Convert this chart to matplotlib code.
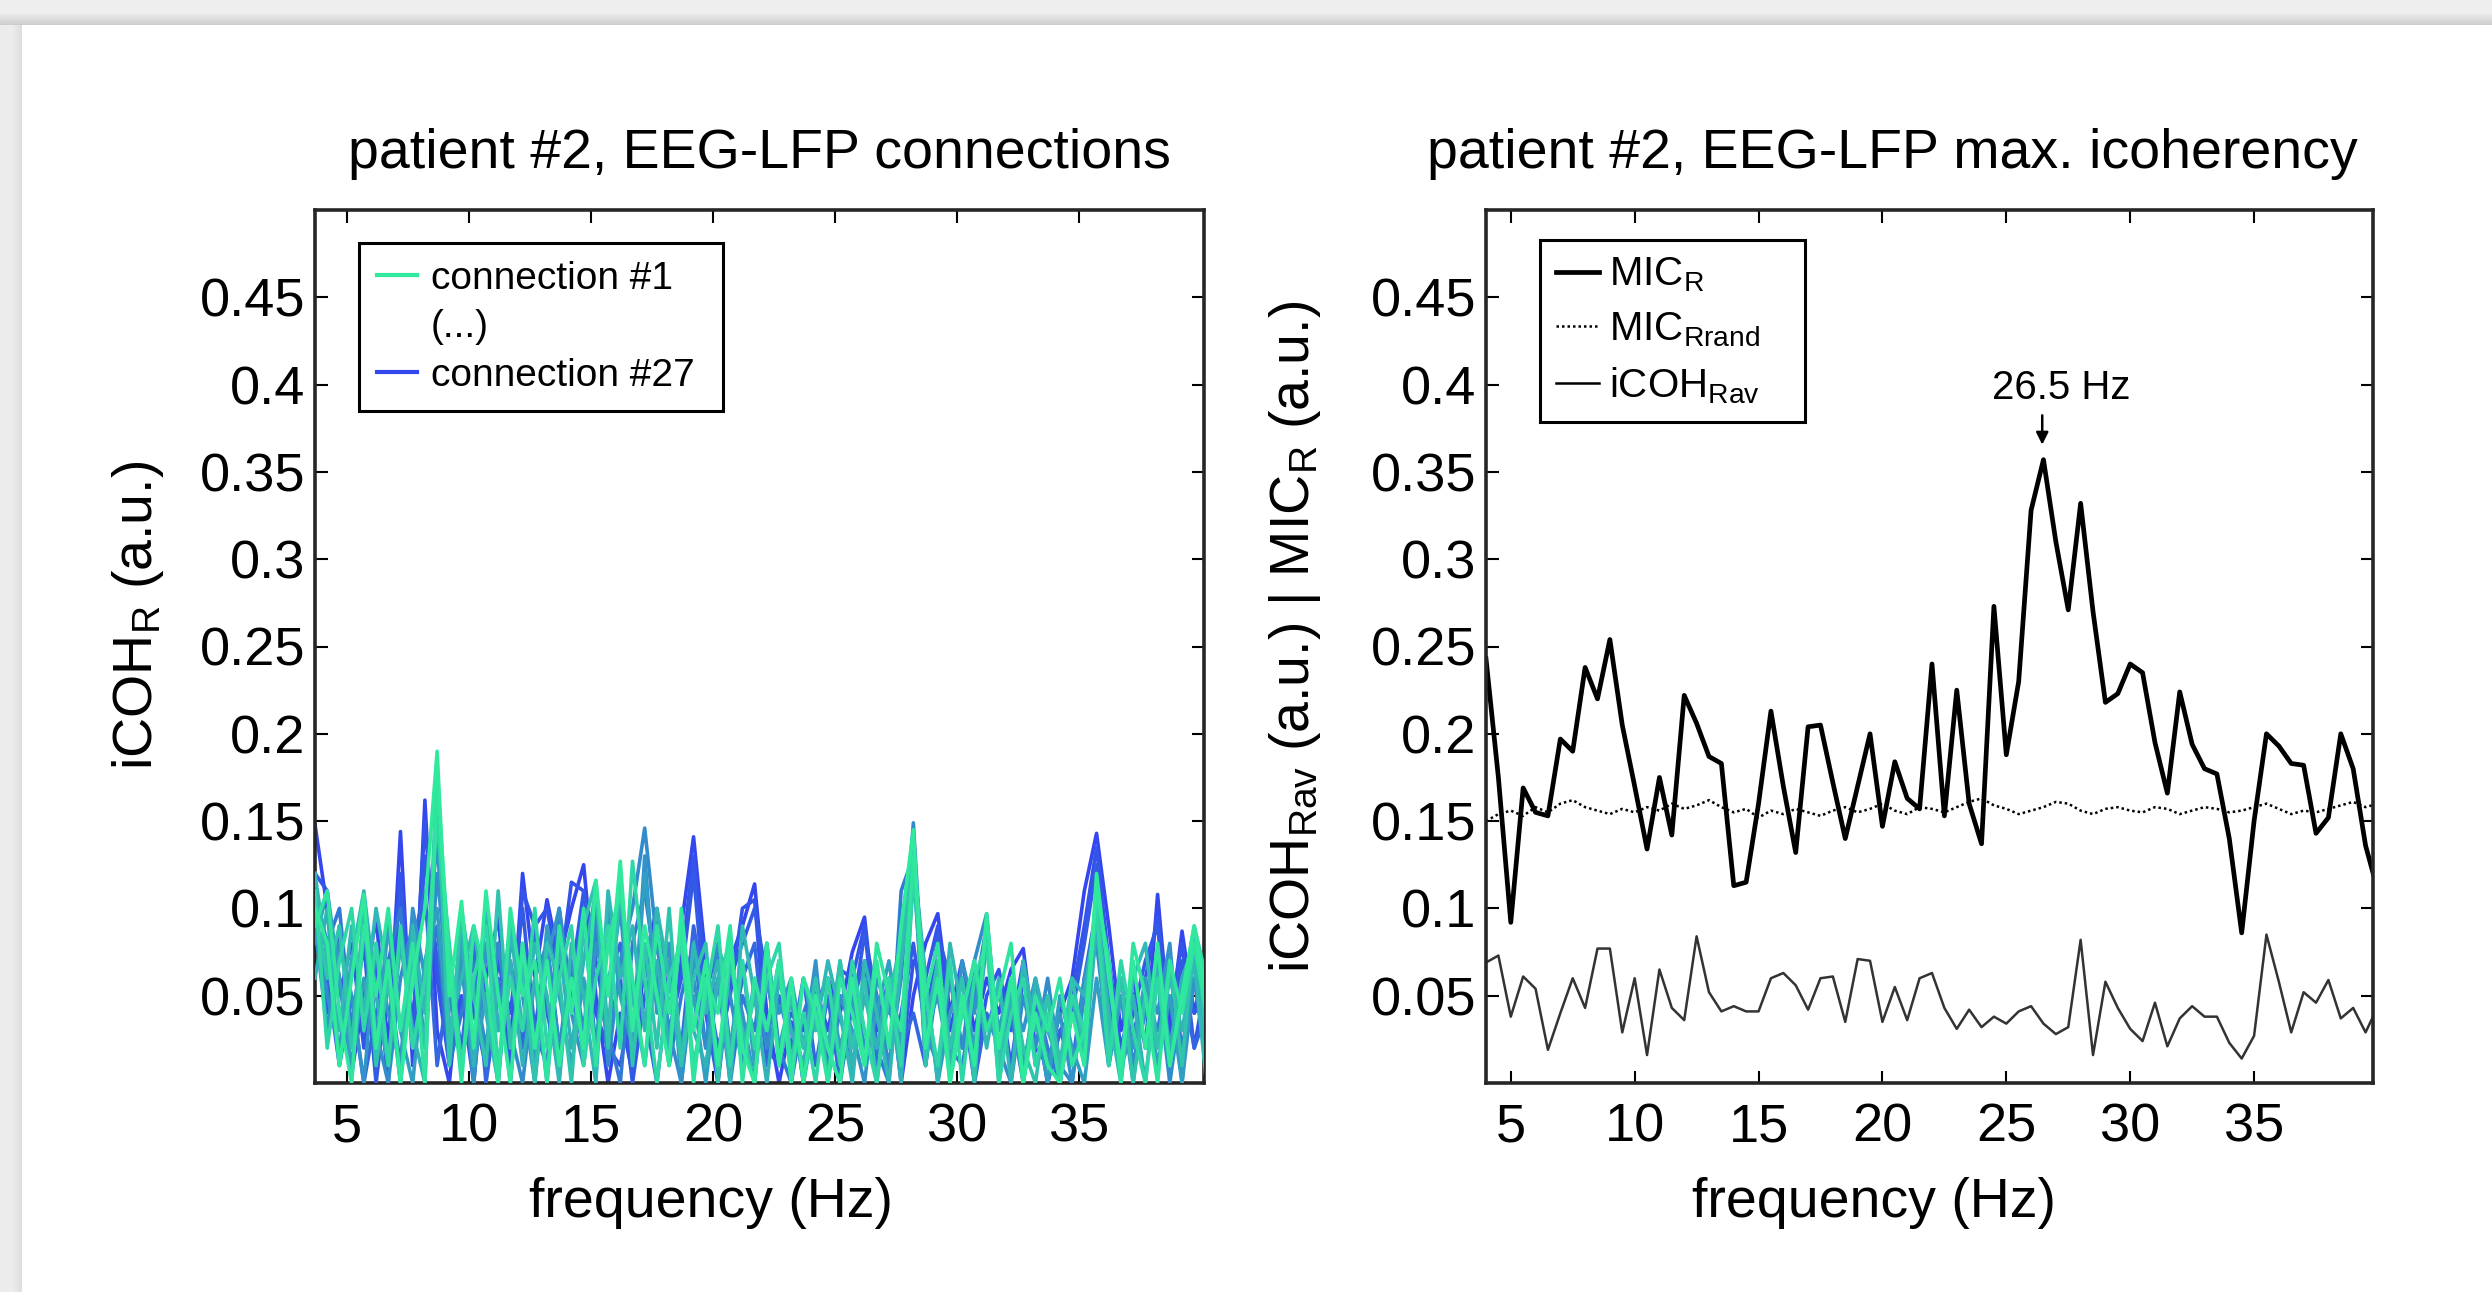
"""
Patient #2 EEG-LFP imaginary coherency: all connections and maximal icoherency
"""

import numpy as np
import matplotlib
matplotlib.use("Agg")
import matplotlib.pyplot as plt
from matplotlib.lines import Line2D
from matplotlib.patches import Rectangle
from matplotlib.colors import to_rgb

plt.rcParams["font.family"] = ["Liberation Sans", "DejaVu Sans"]
plt.rcParams["mathtext.fontset"] = "custom"
plt.rcParams["mathtext.rm"] = "Liberation Sans"
plt.rcParams["mathtext.default"] = "regular"

# ---- left panel: iCOH_R of single EEG-LFP connections (0.5 Hz bins from 3.7 Hz)
f0_conn = 3.7
conn_27 = [0.148, 0.100, 0.060, 0.005, 0.050, 0.095, 0.020, 0.144, 0.010, 0.162,
           0.030, 0.000, 0.070, 0.010, 0.060, 0.095, 0.020, 0.120, 0.060, 0.105,
           0.070, 0.100, 0.125, 0.050, 0.000, 0.040, 0.005, 0.070, 0.100, 0.040,
           0.090, 0.141, 0.070, 0.010, 0.070, 0.090, 0.114, 0.040, 0.000, 0.035,
           0.010, 0.045, 0.060, 0.040, 0.075, 0.095, 0.030, 0.060, 0.000, 0.050,
           0.080, 0.097, 0.040, 0.070, 0.030, 0.060, 0.040, 0.065, 0.077, 0.020,
           0.010, 0.040, 0.060, 0.110, 0.143, 0.090, 0.030, 0.060, 0.020, 0.108,
           0.030, 0.087, 0.040, 0.070]
conn_25 = [0.120, 0.110, 0.050, 0.080, 0.020, 0.070, 0.000, 0.120, 0.030, 0.150,
           0.060, 0.010, 0.050, 0.000, 0.075, 0.080, 0.010, 0.110, 0.090, 0.100,
           0.060, 0.115, 0.110, 0.040, 0.020, 0.010, 0.050, 0.060, 0.090, 0.020,
           0.070, 0.130, 0.060, 0.020, 0.050, 0.100, 0.105, 0.020, 0.010, 0.050,
           0.000, 0.055, 0.030, 0.065, 0.060, 0.090, 0.020, 0.045, 0.010, 0.070,
           0.060, 0.090, 0.030, 0.060, 0.010, 0.050, 0.065, 0.030, 0.070, 0.010,
           0.035, 0.010, 0.050, 0.090, 0.135, 0.070, 0.020, 0.050, 0.060, 0.095,
           0.040, 0.080, 0.020, 0.060]
conn_24 = [0.100, 0.040, 0.090, 0.030, 0.080, 0.000, 0.060, 0.110, 0.020, 0.130,
           0.070, 0.020, 0.090, 0.040, 0.010, 0.070, 0.040, 0.100, 0.030, 0.080,
           0.020, 0.060, 0.110, 0.070, 0.030, 0.060, 0.000, 0.050, 0.080, 0.030,
           0.060, 0.120, 0.040, 0.000, 0.060, 0.080, 0.100, 0.060, 0.020, 0.040,
           0.030, 0.060, 0.010, 0.050, 0.040, 0.085, 0.050, 0.020, 0.040, 0.080,
           0.030, 0.085, 0.060, 0.020, 0.050, 0.030, 0.055, 0.010, 0.060, 0.040,
           0.000, 0.030, 0.040, 0.080, 0.125, 0.060, 0.010, 0.040, 0.070, 0.090,
           0.020, 0.070, 0.040, 0.050]
conn_22 = [0.090, 0.060, 0.010, 0.050, 0.000, 0.040, 0.060, 0.010, 0.080, 0.110,
           0.010, 0.060, 0.020, 0.080, 0.000, 0.050, 0.070, 0.020, 0.090, 0.040,
           0.010, 0.060, 0.095, 0.020, 0.060, 0.080, 0.020, 0.040, 0.000, 0.060,
           0.020, 0.090, 0.050, 0.080, 0.020, 0.060, 0.080, 0.010, 0.050, 0.020,
           0.060, 0.010, 0.050, 0.000, 0.045, 0.070, 0.010, 0.050, 0.020, 0.040,
           0.010, 0.070, 0.020, 0.050, 0.000, 0.040, 0.020, 0.055, 0.010, 0.045,
           0.000, 0.030, 0.010, 0.060, 0.100, 0.020, 0.060, 0.010, 0.050, 0.070,
           0.010, 0.060, 0.020, 0.040]
conn_19 = [0.110, 0.080, 0.100, 0.030, 0.090, 0.010, 0.070, 0.100, 0.020, 0.060,
           0.090, 0.010, 0.040, 0.070, 0.010, 0.060, 0.000, 0.080, 0.030, 0.010,
           0.100, 0.050, 0.020, 0.090, 0.030, 0.000, 0.080, 0.110, 0.060, 0.010,
           0.050, 0.080, 0.020, 0.060, 0.000, 0.050, 0.030, 0.080, 0.020, 0.000,
           0.040, 0.060, 0.010, 0.040, 0.005, 0.060, 0.020, 0.000, 0.110, 0.130,
           0.010, 0.060, 0.020, 0.010, 0.050, 0.090, 0.010, 0.040, 0.000, 0.050,
           0.020, 0.000, 0.040, 0.020, 0.100, 0.050, 0.010, 0.030, 0.050, 0.030,
           0.070, 0.020, 0.060, 0.010]
conn_16 = [0.100, 0.050, 0.020, 0.070, 0.100, 0.030, 0.000, 0.060, 0.090, 0.020,
           0.120, 0.050, 0.010, 0.060, 0.020, 0.080, 0.030, 0.000, 0.060, 0.080,
           0.020, 0.070, 0.030, 0.100, 0.010, 0.070, 0.100, 0.146, 0.080, 0.030,
           0.000, 0.060, 0.020, 0.080, 0.050, 0.010, 0.060, 0.020, 0.070, 0.030,
           0.010, 0.050, 0.020, 0.000, 0.060, 0.020, 0.050, 0.010, 0.060, 0.149,
           0.030, 0.010, 0.060, 0.020, 0.070, 0.097, 0.020, 0.000, 0.050, 0.020,
           0.060, 0.010, 0.000, 0.050, 0.080, 0.020, 0.060, 0.010, 0.040, 0.060,
           0.000, 0.050, 0.070, 0.030]
conn_15 = [0.090, 0.030, 0.080, 0.050, 0.000, 0.080, 0.040, 0.010, 0.100, 0.060,
           0.140, 0.020, 0.070, 0.000, 0.080, 0.030, 0.090, 0.050, 0.000, 0.070,
           0.100, 0.040, 0.010, 0.080, 0.050, 0.100, 0.020, 0.130, 0.040, 0.080,
           0.000, 0.070, 0.050, 0.010, 0.070, 0.040, 0.000, 0.070, 0.040, 0.060,
           0.020, 0.070, 0.000, 0.050, 0.030, 0.000, 0.060, 0.040, 0.080, 0.140,
           0.030, 0.050, 0.010, 0.070, 0.040, 0.090, 0.000, 0.050, 0.030, 0.060,
           0.010, 0.040, 0.000, 0.060, 0.090, 0.010, 0.050, 0.000, 0.060, 0.040,
           0.080, 0.000, 0.060, 0.030]
conn_13 = [0.080, 0.110, 0.060, 0.010, 0.060, 0.020, 0.090, 0.030, 0.000, 0.070,
           0.100, 0.020, 0.080, 0.010, 0.050, 0.000, 0.080, 0.060, 0.010, 0.090,
           0.050, 0.010, 0.060, 0.020, 0.100, 0.050, 0.020, 0.120, 0.050, 0.070,
           0.020, 0.050, 0.000, 0.060, 0.020, 0.070, 0.010, 0.060, 0.020, 0.050,
           0.000, 0.040, 0.060, 0.020, 0.050, 0.010, 0.040, 0.070, 0.020, 0.130,
           0.060, 0.000, 0.040, 0.060, 0.020, 0.080, 0.030, 0.060, 0.010, 0.040,
           0.000, 0.050, 0.020, 0.000, 0.060, 0.010, 0.050, 0.020, 0.060, 0.010,
           0.050, 0.000, 0.080, 0.050]
conn_10 = [0.060, 0.100, 0.010, 0.070, 0.110, 0.050, 0.010, 0.080, 0.030, 0.000,
           0.170, 0.060, 0.090, 0.010, 0.100, 0.030, 0.070, 0.010, 0.060, 0.000,
           0.080, 0.020, 0.070, 0.110, 0.030, 0.110, 0.050, 0.010, 0.070, 0.020,
           0.090, 0.030, 0.010, 0.060, 0.080, 0.020, 0.050, 0.000, 0.060, 0.030,
           0.010, 0.060, 0.020, 0.070, 0.010, 0.050, 0.020, 0.060, 0.000, 0.120,
           0.030, 0.070, 0.010, 0.050, 0.010, 0.090, 0.020, 0.050, 0.000, 0.060,
           0.030, 0.010, 0.050, 0.010, 0.090, 0.030, 0.010, 0.050, 0.000, 0.070,
           0.020, 0.060, 0.080, 0.020]
conn_09 = [0.120, 0.070, 0.030, 0.090, 0.040, 0.100, 0.060, 0.000, 0.090, 0.040,
           0.160, 0.030, 0.060, 0.090, 0.040, 0.000, 0.090, 0.030, 0.080, 0.050,
           0.000, 0.080, 0.050, 0.000, 0.110, 0.060, 0.090, 0.030, 0.100, 0.060,
           0.010, 0.080, 0.040, 0.070, 0.000, 0.090, 0.050, 0.030, 0.070, 0.010,
           0.060, 0.030, 0.070, 0.040, 0.000, 0.070, 0.040, 0.000, 0.070, 0.120,
           0.060, 0.000, 0.080, 0.040, 0.070, 0.020, 0.060, 0.000, 0.070, 0.030,
           0.050, 0.000, 0.060, 0.050, 0.100, 0.040, 0.000, 0.060, 0.080, 0.020,
           0.060, 0.030, 0.070, 0.000]
conn_07 = [0.100, 0.060, 0.090, 0.020, 0.100, 0.010, 0.060, 0.000, 0.070, 0.020,
           0.180, 0.010, 0.100, 0.050, 0.010, 0.110, 0.020, 0.070, 0.000, 0.080,
           0.060, 0.000, 0.090, 0.116, 0.020, 0.120, 0.010, 0.080, 0.020, 0.100,
           0.010, 0.060, 0.080, 0.000, 0.070, 0.030, 0.000, 0.080, 0.010, 0.050,
           0.020, 0.060, 0.000, 0.070, 0.020, 0.060, 0.000, 0.050, 0.080, 0.140,
           0.010, 0.070, 0.020, 0.060, 0.000, 0.095, 0.010, 0.060, 0.020, 0.000,
           0.050, 0.010, 0.060, 0.020, 0.110, 0.020, 0.060, 0.000, 0.050, 0.020,
           0.070, 0.010, 0.085, 0.030]
conn_04 = [0.110, 0.020, 0.070, 0.100, 0.030, 0.080, 0.010, 0.090, 0.020, 0.060,
           0.150, 0.080, 0.010, 0.060, 0.090, 0.010, 0.060, 0.030, 0.100, 0.020,
           0.060, 0.090, 0.010, 0.060, 0.090, 0.020, 0.127, 0.060, 0.000, 0.060,
           0.080, 0.010, 0.050, 0.090, 0.010, 0.070, 0.020, 0.060, 0.080, 0.010,
           0.040, 0.000, 0.060, 0.010, 0.070, 0.030, 0.000, 0.060, 0.010, 0.120,
           0.050, 0.010, 0.070, 0.000, 0.060, 0.080, 0.000, 0.040, 0.060, 0.010,
           0.040, 0.000, 0.050, 0.030, 0.100, 0.010, 0.070, 0.030, 0.000, 0.060,
           0.010, 0.050, 0.090, 0.060]
conn_02 = [0.090, 0.110, 0.040, 0.000, 0.090, 0.050, 0.100, 0.030, 0.080, 0.000,
           0.175, 0.070, 0.000, 0.090, 0.060, 0.000, 0.100, 0.050, 0.070, 0.000,
           0.090, 0.040, 0.100, 0.010, 0.080, 0.110, 0.060, 0.010, 0.090, 0.040,
           0.090, 0.000, 0.060, 0.040, 0.090, 0.000, 0.060, 0.030, 0.070, 0.000,
           0.060, 0.040, 0.000, 0.060, 0.040, 0.010, 0.080, 0.050, 0.030, 0.130,
           0.050, 0.080, 0.000, 0.040, 0.070, 0.030, 0.050, 0.080, 0.000, 0.050,
           0.030, 0.060, 0.010, 0.030, 0.110, 0.070, 0.000, 0.080, 0.050, 0.000,
           0.070, 0.040, 0.080, 0.040]
conn_01 = [0.100, 0.080, 0.010, 0.060, 0.108, 0.020, 0.070, 0.000, 0.060, 0.100,
           0.190, 0.050, 0.104, 0.020, 0.110, 0.050, 0.000, 0.080, 0.020, 0.070,
           0.010, 0.060, 0.020, 0.116, 0.050, 0.127, 0.030, 0.090, 0.050, 0.010,
           0.100, 0.030, 0.070, 0.010, 0.080, 0.020, 0.000, 0.080, 0.010, 0.060,
           0.000, 0.050, 0.020, 0.000, 0.060, 0.010, 0.070, 0.020, 0.090, 0.145,
           0.020, 0.060, 0.000, 0.050, 0.010, 0.097, 0.020, 0.060, 0.000, 0.040,
           0.010, 0.000, 0.040, 0.010, 0.120, 0.060, 0.010, 0.070, 0.020, 0.080,
           0.010, 0.050, 0.090, 0.050]

# drawn from connection #27 (blue) to #1 (green), green ends on top
connections = [(27, conn_27), (25, conn_25), (24, conn_24), (22, conn_22),
               (19, conn_19), (16, conn_16), (15, conn_15), (13, conn_13),
               (10, conn_10), (9, conn_09), (7, conn_07), (4, conn_04),
               (2, conn_02), (1, conn_01)]

# ---- right panel: maximal icoherency (0.5 Hz bins from 4 Hz)
f0_max = 4.0
mic_r = [0.243, 0.175, 0.092, 0.169, 0.155, 0.153, 0.197, 0.190, 0.238, 0.220,
         0.254, 0.205, 0.170, 0.134, 0.175, 0.142, 0.222, 0.206, 0.187, 0.183,
         0.113, 0.115, 0.160, 0.213, 0.170, 0.132, 0.204, 0.205, 0.172, 0.140,
         0.170, 0.200, 0.147, 0.184, 0.163, 0.157, 0.240, 0.153, 0.225, 0.160,
         0.137, 0.273, 0.188, 0.230, 0.328, 0.357, 0.310, 0.271, 0.332, 0.270,
         0.218, 0.223, 0.240, 0.235, 0.195, 0.166, 0.224, 0.194, 0.180, 0.177,
         0.140, 0.086, 0.150, 0.200, 0.193, 0.183, 0.182, 0.143, 0.152, 0.200,
         0.180, 0.136, 0.110]
mic_rand = [0.150, 0.154, 0.156, 0.153, 0.158, 0.155, 0.160, 0.162, 0.158, 0.156,
            0.154, 0.157, 0.155, 0.158, 0.156, 0.160, 0.157, 0.159, 0.162, 0.158,
            0.155, 0.157, 0.152, 0.156, 0.154, 0.157, 0.155, 0.153, 0.156, 0.158,
            0.155, 0.157, 0.160, 0.156, 0.154, 0.158, 0.157, 0.155, 0.158, 0.161,
            0.163, 0.159, 0.157, 0.154, 0.156, 0.158, 0.161, 0.160, 0.156, 0.154,
            0.157, 0.158, 0.156, 0.155, 0.158, 0.157, 0.154, 0.156, 0.158, 0.157,
            0.155, 0.156, 0.158, 0.160, 0.157, 0.154, 0.156, 0.155, 0.157, 0.159,
            0.161, 0.158, 0.160]
icoh_rav = [0.069, 0.073, 0.038, 0.061, 0.054, 0.019, 0.040, 0.060, 0.043, 0.077,
            0.077, 0.029, 0.060, 0.016, 0.065, 0.043, 0.036, 0.084, 0.052, 0.041,
            0.044, 0.041, 0.041, 0.060, 0.063, 0.056, 0.042, 0.060, 0.061, 0.035,
            0.071, 0.070, 0.035, 0.055, 0.036, 0.060, 0.063, 0.043, 0.031, 0.042,
            0.032, 0.038, 0.034, 0.041, 0.044, 0.034, 0.028, 0.032, 0.082, 0.016,
            0.058, 0.043, 0.031, 0.024, 0.046, 0.021, 0.037, 0.044, 0.038, 0.038,
            0.023, 0.014, 0.027, 0.085, 0.058, 0.029, 0.052, 0.046, 0.059, 0.037,
            0.043, 0.029, 0.044]

xticks = [5, 10, 15, 20, 25, 30, 35]
yticks = [0.05, 0.1, 0.15, 0.2, 0.25, 0.3, 0.35, 0.4, 0.45]

green = to_rgb("#2fea9c")
blue = to_rgb("#3447ef")

W, H = 2492, 1292
fig = plt.figure(figsize=(W / 100, H / 100), dpi=100)

# grey screenshot border with a soft shadow along the white card
for i in range(25):
    g = 0.935 - max(0, i - 12) * 0.011
    fig.patches.append(Rectangle((0, 1 - (i + 1) / H), 1, 1 / H, transform=fig.transFigure,
                                 facecolor=(g, g, g), edgecolor="none", zorder=0))
for i in range(22):
    g = 0.925 - max(0, i - 12) * 0.006
    fig.patches.append(Rectangle((i / W, 0), 1 / W, 1 - 25 / H, transform=fig.transFigure,
                                 facecolor=(g, g, g), edgecolor="none", zorder=0))

ax1 = fig.add_axes([315 / W, (H - 1083) / H, 889 / W, 873 / H])
ax2 = fig.add_axes([1486 / W, (H - 1083) / H, 887 / W, 873 / H])

for ax in (ax1, ax2):
    ax.set_ylim(0, 0.5)
    ax.set_xticks(xticks)
    ax.set_yticks(yticks)
    ax.set_yticklabels(["%g" % v for v in yticks])
    ax.tick_params(direction="in", top=True, right=True, length=9, width=1.5,
                   labelsize=39, colors="k")
    ax.tick_params(axis="x", pad=14)
    ax.tick_params(axis="y", pad=7)
    for s in ax.spines.values():
        s.set_linewidth(2.6)
        s.set_color("#262626")
    ax.set_xlabel("frequency (Hz)", fontsize=40)

# left panel
for idx, (num, vals) in enumerate(connections):
    t = (num - 1) / 26.0
    col = tuple(green[c] * (1 - t) + blue[c] * t for c in range(3))
    freqs = f0_conn + 0.5 * np.arange(len(vals))
    ax1.plot(freqs, vals, color=col, lw=2.6, zorder=2 + idx)
ax1.set_xlim(3.7, 40.1)
ax1.set_title("patient #2, EEG-LFP connections", fontsize=40, pad=30)
ax1.set_ylabel(r"iCOH$_{R}$ (a.u.)", fontsize=40)
ax1.yaxis.set_label_coords(-0.168, 0.536)
ax1.xaxis.set_label_coords(0.445, -0.108)

h1 = [Line2D([], [], color=green, lw=3), Line2D([], [], color="none"),
      Line2D([], [], color=blue, lw=3)]
leg1 = ax1.legend(h1, ["connection #1", "(...)", "connection #27"], loc="upper left",
                  bbox_to_anchor=(0.0495, 0.762, 0.409, 0.2), mode="expand",
                  borderaxespad=0, fontsize=28, fancybox=False, edgecolor="k",
                  framealpha=1, handlelength=1.05, handletextpad=0.35,
                  labelspacing=0.32, borderpad=0.45)
leg1.get_frame().set_linewidth(2.2)
leg1.set_zorder(50)

# right panel
freqs_max = f0_max + 0.5 * np.arange(len(mic_r))
ax2.plot(f0_max + 0.5 * np.arange(len(icoh_rav)), icoh_rav, color="#333333", lw=1.8)
ax2.plot(f0_max + 0.5 * np.arange(len(mic_rand)), mic_rand, color="k", lw=1.8,
         linestyle=(0, (1, 1.2)))
ax2.plot(freqs_max, mic_r, color="k", lw=3.4)
ax2.set_xlim(4.0, 39.8)
ax2.set_title("patient #2, EEG-LFP max. icoherency", fontsize=40, pad=30, x=0.458)
ax2.set_ylabel(r"iCOH$_{Rav}$ (a.u.) | MIC$_{R}$ (a.u.)", fontsize=40)
ax2.yaxis.set_label_coords(-0.184, 0.511)
ax2.xaxis.set_label_coords(0.437, -0.108)

ipk = int(np.argmax(mic_r))
pk_f, pk_v = freqs_max[ipk], mic_r[ipk]
ax2.annotate("", xy=(pk_f - 0.05, pk_v + 0.007), xytext=(pk_f - 0.05, pk_v + 0.027),
             arrowprops=dict(arrowstyle="-|>", color="k", lw=1.8, mutation_scale=18))
ax2.text(pk_f + 0.7, pk_v + 0.041, "%g Hz" % pk_f, fontsize=29, ha="center", va="center")

h2 = [Line2D([], [], color="k", lw=3.4),
      Line2D([], [], color="k", lw=1.8, linestyle=(0, (1, 1.2))),
      Line2D([], [], color="k", lw=1.8)]
leg2 = ax2.legend(h2, [r"MIC$_{R}$", r"MIC$_{Rrand}$", r"iCOH$_{Rav}$"], loc="upper left",
                  bbox_to_anchor=(0.061, 0.766, 0.299, 0.2), mode="expand",
                  borderaxespad=0, fontsize=29, fancybox=False, edgecolor="k",
                  framealpha=1, handlelength=1.05, handletextpad=0.25,
                  labelspacing=0.4, borderpad=0.4)
leg2.get_frame().set_linewidth(2.2)

fig.savefig("out.png", dpi=100, facecolor="white")
